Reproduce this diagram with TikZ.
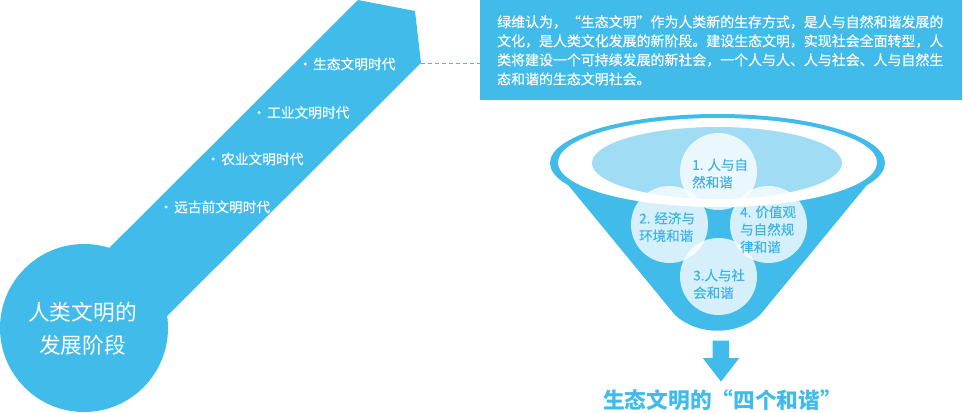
\documentclass[tikz,border=0pt]{standalone}
\usepackage{fontspec}
\setmainfont{Noto Sans CJK SC}
\newfontfamily\midcjk[FakeBold=0.35]{Noto Sans CJK SC}
\definecolor{mainblue}{HTML}{41BBEA}
\definecolor{paleblue}{HTML}{A0DCF4}
\definecolor{circtext}{HTML}{3FB3E6}
\begin{document}
\begin{tikzpicture}[x=1pt,y=-1pt,
  boxtext/.style={anchor=west,inner sep=0pt,text=white,font=\midcjk\fontsize{13.94}{16}\selectfont},
  eralabel/.style={anchor=west,inner sep=0pt,text=white,font=\midcjk\fontsize{13.7}{16}\selectfont},
  circlabel/.style={anchor=west,inner sep=0pt,align=left,text=circtext,font=\midcjk\fontsize{13.5}{17.5}\selectfont},
  bubble/.style={circle,fill=white,fill opacity=0.78,minimum size=77pt,inner sep=0pt},
]
\useasboundingbox (0,0) rectangle (963,412);
% left band and circle
\fill[mainblue] (358,0) -- (415,11) -- (421,63) -- (150,333) -- (50,307) -- cycle;
\fill[mainblue] (84,328) circle (84pt);
\coordinate (tip) at (421,63);
\node[align=center,text=white,font=\fontsize{21.7}{33}\selectfont,inner sep=0pt] (stage) at (82.5,328.5) {人类文明的\\发展阶段};
\node[eralabel] (e1) at (305,64) {\makebox[0pt]{·}\hspace{8pt}生态文明时代};
\node[eralabel] (e2) at (259,112.5) {\makebox[0pt]{·}\hspace{8pt}工业文明时代};
\node[eralabel] (e3) at (213,159) {\makebox[0pt]{·}\hspace{8pt}农业文明时代};
\node[eralabel] (e4) at (166,207) {\makebox[0pt]{·}\hspace{8pt}远古前文明时代};
% text box
\node[fill=mainblue,minimum width=482pt,minimum height=100pt,anchor=north west,inner sep=0pt] (box) at (480,0) {};
\draw[mainblue,dash pattern=on 4pt off 3pt,line width=0.8pt] (tip) -- (tip -| box.west);
\node[boxtext] (p1) at (497,22) {绿维认为，“生态文明”作为人类新的生存方式，是人与自然和谐发展的};
\node[boxtext] (p2) at (497,41) {文化，是人类文化发展的新阶段。建设生态文明，实现社会全面转型，人};
\node[boxtext] (p3) at (497,60) {类将建设一个可持续发展的新社会，一个人与人、人与社会、人与自然生};
\node[boxtext] (p4) at (497,79) {态和谐的生态文明社会。};
% funnel
\fill[mainblue] (717.5,163) ellipse [x radius=167.5pt, y radius=49pt];
\fill[mainblue] (550,163) -- (675,315) .. controls (698,336) and (737,336) .. (760,315) -- (885,163) -- cycle;
\fill[white] (717.5,162.5) ellipse [x radius=159.5pt, y radius=44.5pt];
\fill[paleblue] (717,163) ellipse [x radius=125pt, y radius=36pt];
\node[bubble] (c1) at (718.5,171.5) {};
\node[bubble] (c2) at (669.5,224.5) {};
\node[bubble] (c4) at (768.5,224.5) {};
\node[bubble] (c3) at (718.5,276.5) {};
\node[circlabel] (t1) at (692,173.5) {1. 人与自\\然和谐};
\node[circlabel] (t2) at (639,227) {2. 经济与\\环境和谐};
\node[circlabel] (t4) at (740,229.5) {4. 价值观\\与自然规\\律和谐};
\node[circlabel] (t3) at (693,284) {3.人与社\\会和谐};
% arrow and title
\fill[mainblue] (712.7,340.7) -- (729,340.7) -- (729,358) -- (739.3,358) -- (721,381.7) -- (702.7,358) -- (712.7,358) -- cycle;
\node[anchor=west,inner sep=0pt,text=mainblue,font=\fontsize{21.7}{26}\selectfont\bfseries] (title) at (603,400) {生态文明的“四个和谐”};
\end{tikzpicture}
\end{document}
